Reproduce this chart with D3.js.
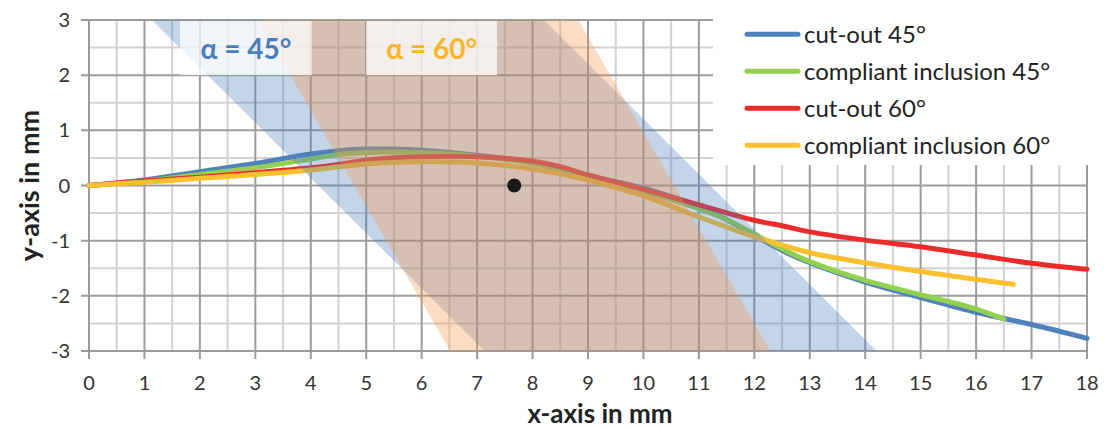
<!DOCTYPE html>
<html>
<head>
<meta charset="utf-8">
<script src="https://cdn.jsdelivr.net/npm/d3@7"></script>
<style>
  html, body { margin: 0; padding: 0; background: #fff; }
  svg { display: block; font-family: Lato, "Open Sans", sans-serif; }
</style>
</head>
<body>
<svg id="chart" width="1106" height="428"></svg>
<script>
// ---- data -------------------------------------------------------------
const xTicks = d3.range(0, 19, 1);
const yTicks = [-3, -2, -1, 0, 1, 2, 3];

const cutout45X = [0, 1, 2, 3, 4, 4.5, 5, 5.5, 6, 7, 8, 8.5, 9, 10, 11, 11.5, 12, 12.5, 13, 14, 15, 16, 17, 18];
const cutout45Y = [0, 0.1, 0.25, 0.4, 0.57, 0.63, 0.66, 0.66, 0.64, 0.55, 0.42, 0.32, 0.18, -0.05, -0.38, -0.62, -0.9, -1.18, -1.4, -1.75, -2.03, -2.3, -2.52, -2.77];

const inclusion45X = [0, 1, 2, 3, 4, 4.5, 5, 6, 7, 8, 9, 10, 11, 11.5, 12, 12.5, 13, 14, 15, 16, 16.5];
const inclusion45Y = [0, 0.08, 0.2, 0.32, 0.48, 0.56, 0.6, 0.6, 0.53, 0.4, 0.17, -0.1, -0.42, -0.62, -0.88, -1.15, -1.38, -1.72, -1.98, -2.24, -2.42];

const cutout60X = [0, 1, 2, 3, 4, 4.5, 5, 6, 7, 8, 8.5, 9, 10, 11, 12, 12.5, 13, 14, 15, 16, 17, 18];
const cutout60Y = [0, 0.08, 0.15, 0.23, 0.32, 0.38, 0.46, 0.52, 0.52, 0.44, 0.34, 0.19, -0.07, -0.35, -0.63, -0.73, -0.84, -0.99, -1.11, -1.26, -1.41, -1.52];

const inclusion60X = [0, 1, 2, 3, 4, 5, 6, 7, 8, 9, 10, 11, 12, 12.5, 13, 14, 15, 16, 16.67];
const inclusion60Y = [0, 0.06, 0.13, 0.2, 0.28, 0.39, 0.43, 0.41, 0.3, 0.1, -0.19, -0.57, -0.93, -1.08, -1.22, -1.4, -1.56, -1.7, -1.79];

const seriesNames = ["cut-out 45°", "compliant inclusion 45°", "cut-out 60°", "compliant inclusion 60°"];
const seriesColors = ["#4F81BD", "#92D050", "#EE2B2B", "#FBC02D"];

// inclined bands through the reference point
const pivot = [7.67, 0];
const bandAngles = [45, 60];
const bandWidth = 5;
const bandColors = ["#4F81BD", "#F79646"];
const bandLabels = ["α = 45°", "α = 60°"];
const bandLabelColors = ["#4A7EBB", "#F9B52A"];
const bandLabelBoxX = [[1.64, 4.02], [5.0, 7.36]];
const bandLabelBoxY = [2.0, 3.0];

// ---- layout -----------------------------------------------------------
const svg = d3.select("#chart");
const x = d3.scaleLinear().domain([0, 18]).range([89, 1087]);
const y = d3.scaleLinear().domain([-3, 3]).range([351, 20]);

const majorColor = "#9c9c9c";
const minorColor = "#d2d2d2";

// grid: half-millimetre minor lines, millimetre major lines
const gx = d3.range(0, 18.01, 0.5);
const gy = d3.range(-3, 3.01, 0.5);
const isMajor = v => Math.abs(v - Math.round(v)) < 1e-6;

const grid = svg.append("g");
grid.selectAll("line.vminor").data(gx.filter(v => !isMajor(v))).join("line")
  .attr("x1", d => x(d)).attr("x2", d => x(d)).attr("y1", y(3)).attr("y2", y(-3))
  .attr("stroke", minorColor).attr("stroke-width", 2);
grid.selectAll("line.hminor").data(gy.filter(v => !isMajor(v))).join("line")
  .attr("x1", x(0)).attr("x2", x(18)).attr("y1", d => y(d)).attr("y2", d => y(d))
  .attr("stroke", minorColor).attr("stroke-width", 2);
grid.selectAll("line.vmajor").data(gx.filter(isMajor)).join("line")
  .attr("x1", d => x(d)).attr("x2", d => x(d)).attr("y1", y(3)).attr("y2", y(-3) + 8)
  .attr("stroke", majorColor).attr("stroke-width", 2);
grid.selectAll("line.hmajor").data(gy.filter(isMajor)).join("line")
  .attr("x1", x(0) - 8).attr("x2", x(18)).attr("y1", d => y(d)).attr("y2", d => y(d))
  .attr("stroke", majorColor).attr("stroke-width", 2);

// legend panel covers the upper-right grid
const legendLeft = 713, legendBottom = 165;
svg.append("rect").attr("x", legendLeft).attr("y", 0)
  .attr("width", 1106 - legendLeft).attr("height", legendBottom).attr("fill", "#fff");

// ---- curves -----------------------------------------------------------
const line = d3.line().x(d => x(d[0])).y(d => y(d[1])).curve(d3.curveCatmullRom.alpha(0.5));
const seriesData = [
  d3.zip(cutout45X, cutout45Y),
  d3.zip(inclusion45X, inclusion45Y),
  d3.zip(cutout60X, cutout60Y),
  d3.zip(inclusion60X, inclusion60Y)
];
svg.append("g").selectAll("path").data(seriesData).join("path")
  .attr("d", line)
  .attr("fill", "none")
  .attr("stroke", (d, i) => seriesColors[i])
  .attr("stroke-width", 5)
  .attr("stroke-linecap", "round")
  .attr("stroke-linejoin", "round");

// ---- translucent bands ------------------------------------------------
svg.append("clipPath").attr("id", "plotClip").append("rect")
  .attr("x", x(0)).attr("y", y(3)).attr("width", x(18) - x(0)).attr("height", y(-3) - y(3));

const bandPoly = angle => {
  const t = Math.tan(angle * Math.PI / 180);
  const h = (bandWidth / 2) / Math.sin(angle * Math.PI / 180);
  const cx = yy => pivot[0] - (yy - pivot[1]) / t;
  return [[cx(3) - h, 3], [cx(3) + h, 3], [cx(-3) + h, -3], [cx(-3) - h, -3]];
};
svg.append("g").attr("clip-path", "url(#plotClip)")
  .selectAll("polygon").data(bandAngles).join("polygon")
  .attr("points", a => bandPoly(a).map(p => [x(p[0]), y(p[1])].join(",")).join(" "))
  .attr("fill", (d, i) => bandColors[i])
  .attr("fill-opacity", 0.33);

// reference point
svg.append("circle").attr("cx", x(pivot[0])).attr("cy", y(pivot[1])).attr("r", 7).attr("fill", "#1a1a1a");

// band labels on translucent panels
const lab = svg.append("g");
bandLabels.forEach((t, i) => {
  const [b0, b1] = bandLabelBoxX[i];
  lab.append("rect")
    .attr("x", x(b0)).attr("y", y(bandLabelBoxY[1]) + 1)
    .attr("width", x(b1) - x(b0)).attr("height", y(bandLabelBoxY[0]) - y(bandLabelBoxY[1]) - 1)
    .attr("fill", "#fff").attr("fill-opacity", 0.75);
  lab.append("text")
    .attr("x", (x(b0) + x(b1)) / 2).attr("y", 59)
    .attr("text-anchor", "middle")
    .attr("font-size", 28).attr("font-weight", "bold")
    .attr("fill", bandLabelColors[i])
    .text(t);
});

// ---- axes labels ------------------------------------------------------
svg.append("g").selectAll("text").data(xTicks).join("text")
  .attr("x", d => x(d)).attr("y", 390)
  .attr("text-anchor", "middle").attr("font-size", 20).attr("fill", "#333")
  .text(d => d);
svg.append("g").selectAll("text").data(yTicks).join("text")
  .attr("x", 70).attr("y", d => y(d) + 7)
  .attr("text-anchor", "end").attr("font-size", 20).attr("fill", "#333")
  .text(d => d);

svg.append("text").attr("x", 600).attr("y", 423)
  .attr("text-anchor", "middle").attr("font-size", 26).attr("font-weight", "bold").attr("fill", "#222")
  .text("x-axis in mm");
svg.append("text").attr("transform", `translate(39,${y(0)}) rotate(-90)`)
  .attr("text-anchor", "middle").attr("font-size", 27).attr("font-weight", "bold").attr("fill", "#222")
  .text("y-axis in mm");

// ---- legend -----------------------------------------------------------
const lg = svg.append("g");
seriesNames.forEach((n, i) => {
  const ly = 34.3 + i * 37;
  lg.append("line").attr("x1", 747).attr("x2", 798).attr("y1", ly).attr("y2", ly)
    .attr("stroke", seriesColors[i]).attr("stroke-width", 5).attr("stroke-linecap", "round");
  lg.append("text").attr("x", 804).attr("y", ly + 8.5)
    .attr("font-size", 24).attr("fill", "#222").text(n);
});
</script>
</body>
</html>
